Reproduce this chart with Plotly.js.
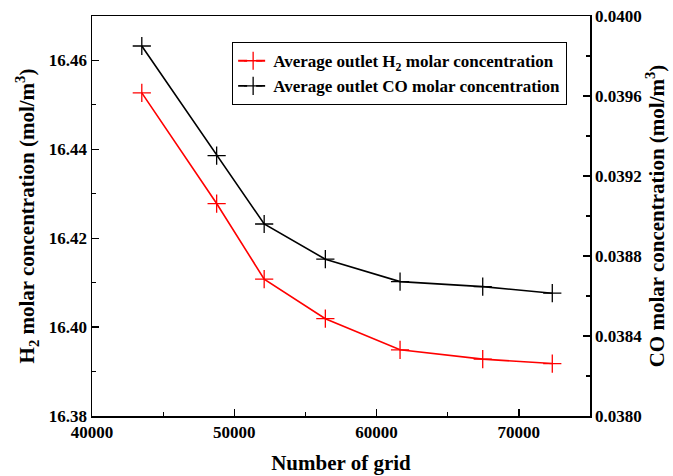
<!DOCTYPE html>
<html>
<head>
<meta charset="utf-8">
<script src="https://cdn.plot.ly/plotly-3.0.1.min.js"></script>
<style>html,body{margin:0;padding:0;background:#fff;}#chart{width:673px;height:476px;}</style>
</head>
<body>
<div id="chart"></div>
<script>
const gridCounts = [43500, 48760, 52100, 56400, 61650, 67460, 72350];
const h2Conc = [16.4527, 16.4278, 16.4108, 16.4019, 16.3949, 16.3928, 16.3918];
const coConc = [0.03985, 0.039302, 0.03896, 0.038784, 0.038672, 0.038647, 0.038614];
const h2Name = 'Average outlet H<sub>2</sub> molar concentration';
const coName = 'Average outlet CO molar concentration';
const xTitle = 'Number of grid';
const y1Title = 'H<sub>2</sub> molar concentration (mol/m<sup>3</sup>)';
const y2Title = 'CO molar concentration (mol/m<sup>3</sup>)';

const fontFam = '"Liberation Serif", "Times New Roman", serif';
const mk = (c) => ({symbol: 'cross-thin-open', size: 13, color: c, line: {color: c, width: 1.3}});

const traces = [
  {x: gridCounts, y: h2Conc, mode: 'lines+markers', line: {color: '#ff0000', width: 1.6},
   marker: mk('#ff0000'), showlegend: false, yaxis: 'y'},
  {x: gridCounts, y: coConc, mode: 'lines+markers', line: {color: '#000000', width: 1.6},
   marker: mk('#000000'), showlegend: false, yaxis: 'y2'},
  {x: [null], y: [null], name: h2Name, mode: 'lines+markers', line: {color: '#ff0000', width: 1.8, dash: 'dash'},
   marker: mk('#ff0000'), yaxis: 'y'},
  {x: [null], y: [null], name: coName, mode: 'lines+markers', line: {color: '#000000', width: 1.8, dash: 'dash'},
   marker: mk('#000000'), yaxis: 'y2'}
];

const titleFont = {family: fontFam, size: 21, color: '#000', weight: 700};
const axisCommon = {
  showgrid: false, zeroline: false, showline: true, linecolor: '#000', linewidth: 1.5,
  ticks: 'inside', ticklen: 7, tickwidth: 1.3, tickcolor: '#000',
  tickfont: {family: fontFam, size: 17, color: '#000', weight: 700}
};

const layout = {
  width: 673, height: 476,
  margin: {l: 92, r: 83, t: 16, b: 60},
  paper_bgcolor: '#fff', plot_bgcolor: '#fff',
  font: {family: fontFam, color: '#000', weight: 700},
  xaxis: Object.assign({}, axisCommon, {
    range: [40000, 75000], dtick: 10000, tick0: 40000, tickformat: 'd', mirror: true,
    minor: {dtick: 5000, ticks: 'inside', ticklen: 4, tickwidth: 1.2, tickcolor: '#000'},
    title: {text: xTitle, font: titleFont, standoff: 14}
  }),
  yaxis: Object.assign({}, axisCommon, {
    range: [16.38, 16.47], dtick: 0.02, tick0: 16.38, tickformat: '.2f',
    minor: {dtick: 0.01, ticks: 'inside', ticklen: 4, tickwidth: 1.2, tickcolor: '#000'},
    title: {text: y1Title, font: titleFont, standoff: 8}
  }),
  yaxis2: Object.assign({}, axisCommon, {
    overlaying: 'y', side: 'right',
    range: [0.038, 0.040], dtick: 0.0004, tick0: 0.038, tickformat: '.4f',
    minor: {dtick: 0.0002, ticks: 'inside', ticklen: 4, tickwidth: 1.2, tickcolor: '#000'},
    title: {text: y2Title, font: titleFont, standoff: 8}
  }),
  legend: {
    x: 0.281, y: 0.935, xanchor: 'left', yanchor: 'top',
    bgcolor: '#fff', bordercolor: '#000', borderwidth: 1.2,
    font: {family: fontFam, size: 17, color: '#000', weight: 700},
    tracegroupgap: 0
  }
};

Plotly.newPlot('chart', traces, layout, {displayModeBar: false, staticPlot: true});
</script>
</body>
</html>
